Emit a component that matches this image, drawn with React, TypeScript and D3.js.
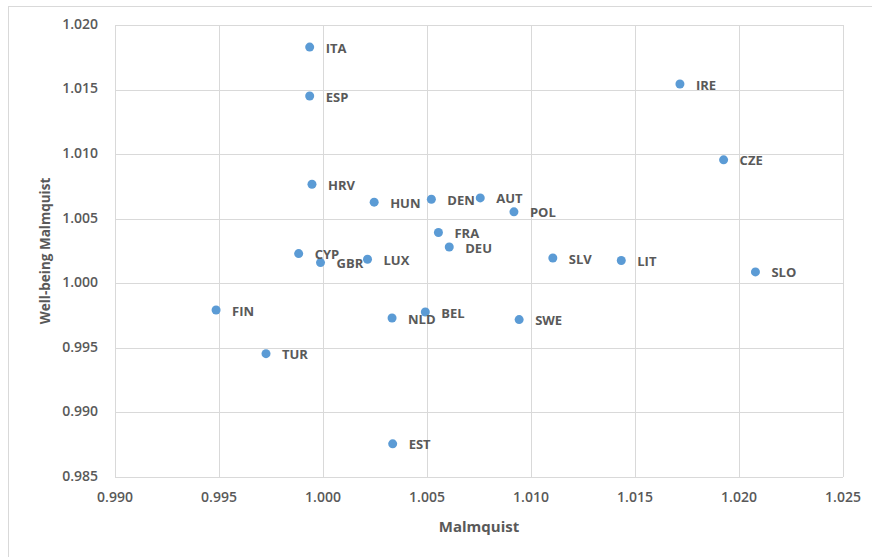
import { useEffect, useRef } from "react";
import * as d3 from "d3";

const WIDTH = 872;
const HEIGHT = 557;
const MARGINS = { LEFT: 115, RIGHT: 28, TOP: 25, BOTTOM: 80 };

// country codes, Malmquist (x) and Well-being Malmquist (y)
const countries = ["ITA", "ESP", "HRV", "HUN", "DEN", "AUT", "POL", "FRA", "DEU", "CYP", "GBR", "LUX", "SLV", "NLD", "BEL", "SWE", "IRE", "CZE", "LIT", "SLO", "FIN", "TUR", "EST"];
const malmquist = [0.99936, 0.99936, 0.99947, 1.00246, 1.00521, 1.00756, 1.00918, 1.00555, 1.00607, 0.99883, 0.99988, 1.00214, 1.01105, 1.00332, 1.00492, 1.00943, 1.01716, 1.01926, 1.01434, 1.02079, 0.99486, 0.99726, 1.00335];
const wellBeing = [1.01829, 1.0145, 1.00767, 1.00628, 1.00651, 1.00661, 1.00553, 1.00393, 1.00281, 1.0023, 1.0016, 1.00186, 1.00196, 0.99731, 0.99778, 0.99719, 1.01543, 1.00956, 1.00176, 1.00088, 0.99793, 0.99455, 0.98757];

const xTicks = [0.99, 0.995, 1.0, 1.005, 1.01, 1.015, 1.02, 1.025];
const yTicks = [0.985, 0.99, 0.995, 1.0, 1.005, 1.01, 1.015, 1.02];

const FONT = "'Open Sans', 'DejaVu Sans', sans-serif";
const TEXT = "#595959";
const GRID = "#d9d9d9";
const DOT = "#5b9bd5";

const App = () => {
  const ref = useRef<SVGGElement | null>(null);

  useEffect(() => {
    const g = d3.select(ref.current);
    g.selectAll("*").remove();

    const x = d3.scaleLinear().domain([0.99, 1.025]).range([MARGINS.LEFT, WIDTH - MARGINS.RIGHT - 1]);
    const y = d3.scaleLinear().domain([0.985, 1.02]).range([HEIGHT - MARGINS.BOTTOM, MARGINS.TOP]);

    // outer chart border
    g.append("rect")
      .attr("x", 8.5)
      .attr("y", 6.5)
      .attr("width", 900)
      .attr("height", 600)
      .attr("fill", "white")
      .attr("stroke", GRID);

    // grid
    g.selectAll(".vgrid")
      .data(xTicks)
      .join("line")
      .attr("x1", (d) => Math.round(x(d)) + 0.5)
      .attr("x2", (d) => Math.round(x(d)) + 0.5)
      .attr("y1", y(1.02))
      .attr("y2", y(0.985))
      .attr("stroke", GRID);
    g.selectAll(".hgrid")
      .data(yTicks)
      .join("line")
      .attr("y1", (d) => Math.round(y(d)) + 0.5)
      .attr("y2", (d) => Math.round(y(d)) + 0.5)
      .attr("x1", x(0.99))
      .attr("x2", x(1.025))
      .attr("stroke", GRID);

    // tick labels
    g.selectAll(".xt")
      .data(xTicks)
      .join("text")
      .attr("x", (d) => x(d))
      .attr("y", y(0.985) + 20)
      .attr("dy", "0.35em")
      .attr("text-anchor", "middle")
      .text((d) => d3.format(".3f")(d));
    g.selectAll(".yt")
      .data(yTicks)
      .join("text")
      .attr("x", MARGINS.LEFT - 17)
      .attr("y", (d) => y(d) - 1)
      .attr("dy", "0.35em")
      .attr("text-anchor", "end")
      .text((d) => d3.format(".3f")(d));

    // axis titles
    g.append("text")
      .attr("x", (x(0.99) + x(1.025)) / 2)
      .attr("y", 527)
      .attr("dy", "0.35em")
      .attr("text-anchor", "middle")
      .attr("font-weight", 700)
      .attr("font-size", 15)
      .text("Malmquist");
    g.append("text")
      .attr("transform", `translate(45, ${(y(0.985) + y(1.02)) / 2}) rotate(-90)`)
      .attr("dy", "0.35em")
      .attr("text-anchor", "middle")
      .attr("font-weight", 700)
      .attr("font-size", 13.5)
      .text("Well-being Malmquist");

    const pts = countries.map((c, i) => ({ c, mx: malmquist[i], wb: wellBeing[i] }));

    g.selectAll(".dot")
      .data(pts)
      .join("circle")
      .attr("cx", (d) => x(d.mx))
      .attr("cy", (d) => y(d.wb))
      .attr("r", 4.5)
      .attr("fill", DOT);

    g.selectAll(".lbl")
      .data(pts)
      .join("text")
      .attr("x", (d) => x(d.mx) + 16)
      .attr("y", (d) => y(d.wb) + 1)
      .attr("dy", "0.35em")
      .attr("font-weight", 700)
      .attr("font-size", 13)
      .text((d) => d.c);
  }, []);

  return (
    <svg
      width={WIDTH}
      height={HEIGHT}
      style={{ position: "absolute", left: 0, top: 0, background: "white" }}
    >
      <g ref={ref} fontFamily={FONT} fontSize={14} fontWeight={600} fill={TEXT} />
    </svg>
  );
};

export default App;
